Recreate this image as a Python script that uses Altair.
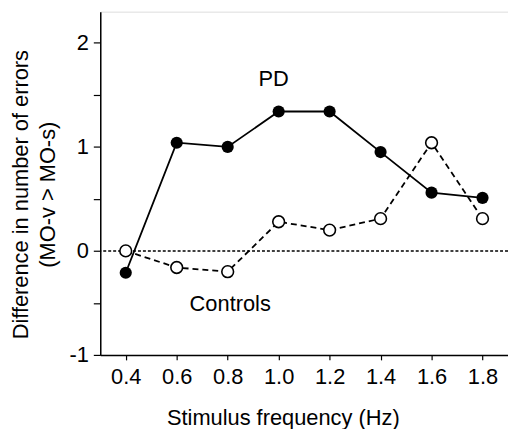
import altair as alt
import pandas as pd

freq = [0.4, 0.6, 0.8, 1.0, 1.2, 1.4, 1.6, 1.8]
pd_vals = [-0.21, 1.04, 1.00, 1.34, 1.34, 0.95, 0.56, 0.51]
ctrl_vals = [0.0, -0.16, -0.20, 0.28, 0.20, 0.31, 1.04, 0.31]

x_ticks = [0.4, 0.6, 0.8, 1.0, 1.2, 1.4, 1.6, 1.8]
y_ticks = [-1, -0.5, 0, 0.5, 1, 1.5, 2]

label_text = ["PD", "Controls"]
label_x = [0.98, 0.81]
label_y = [1.65, -0.51]

FONT = "Liberation Sans"
FS = 22

df_pd = pd.DataFrame({"f": freq, "v": pd_vals})
df_c = pd.DataFrame({"f": freq, "v": ctrl_vals})
df_lab = pd.DataFrame({"t": label_text, "x": label_x, "y": label_y})

xs = alt.Scale(domain=[0.3, 1.9], nice=False, zero=False)
ys = alt.Scale(domain=[-1, 2.3], nice=False, zero=False)

xax = alt.Axis(values=x_ticks, format=".1f", title="Stimulus frequency (Hz)",
               grid=False, tickSize=5, labelPadding=7, titlePadding=20,
               domainColor="black", tickColor="black", labelColor="black",
               titleColor="black", domainWidth=1.5, tickWidth=1.2,
               labelFont=FONT, titleFont=FONT, labelFontSize=FS, titleFontSize=FS,
               titleFontWeight="normal", titleX=184)
yax = alt.Axis(values=y_ticks,
               labelExpr="datum.value % 1 === 0 ? '' + datum.value : ''",
               title=["Difference in number of errors", "(MO-v > MO-s)"],
               grid=False, tickSize=7, labelPadding=5,
               domainColor="black", tickColor="black", labelColor="black",
               titleColor="black", domainWidth=1.5, tickWidth=1.2,
               labelFont=FONT, titleFont=FONT, labelFontSize=FS, titleFontSize=FS,
               titleFontWeight="normal", titleLineHeight=27,
               titleX=-68, titleY=184)

zero = alt.Chart(pd.DataFrame({"z": [0]})).mark_rule(
    color="black", strokeDash=[3, 2], strokeWidth=1.5
).encode(y=alt.Y("z:Q", scale=ys, axis=yax))

pd_line = alt.Chart(df_pd).mark_line(color="black", strokeWidth=1.8).encode(
    x=alt.X("f:Q", scale=xs, axis=xax), y=alt.Y("v:Q", scale=ys))
pd_pts = alt.Chart(df_pd).mark_point(filled=True, color="black", size=150, opacity=1, shape="circle").encode(
    x=alt.X("f:Q", scale=xs), y=alt.Y("v:Q", scale=ys))

c_line = alt.Chart(df_c).mark_line(color="black", strokeWidth=1.8, strokeDash=[6, 4]).encode(
    x=alt.X("f:Q", scale=xs), y=alt.Y("v:Q", scale=ys))
c_pts = alt.Chart(df_c).mark_point(filled=True, fill="white", stroke="black", strokeWidth=1.6,
                                   size=140, opacity=1, shape="circle").encode(
    x=alt.X("f:Q", scale=xs), y=alt.Y("v:Q", scale=ys))

labels = alt.Chart(df_lab).mark_text(font=FONT, fontSize=FS, color="black").encode(
    x=alt.X("x:Q", scale=xs), y=alt.Y("y:Q", scale=ys), text="t:N")

chart = alt.layer(zero, pd_line, c_line, pd_pts, c_pts, labels).properties(
    width=411, height=346,
    autosize=alt.AutoSizeParams(type="none"),
    padding={"left": 93, "top": 2, "right": 0, "bottom": 73},
).configure_view(stroke=None).configure(background="white")

chart.save("out.html", embed_options={"renderer": "svg", "actions": False})
